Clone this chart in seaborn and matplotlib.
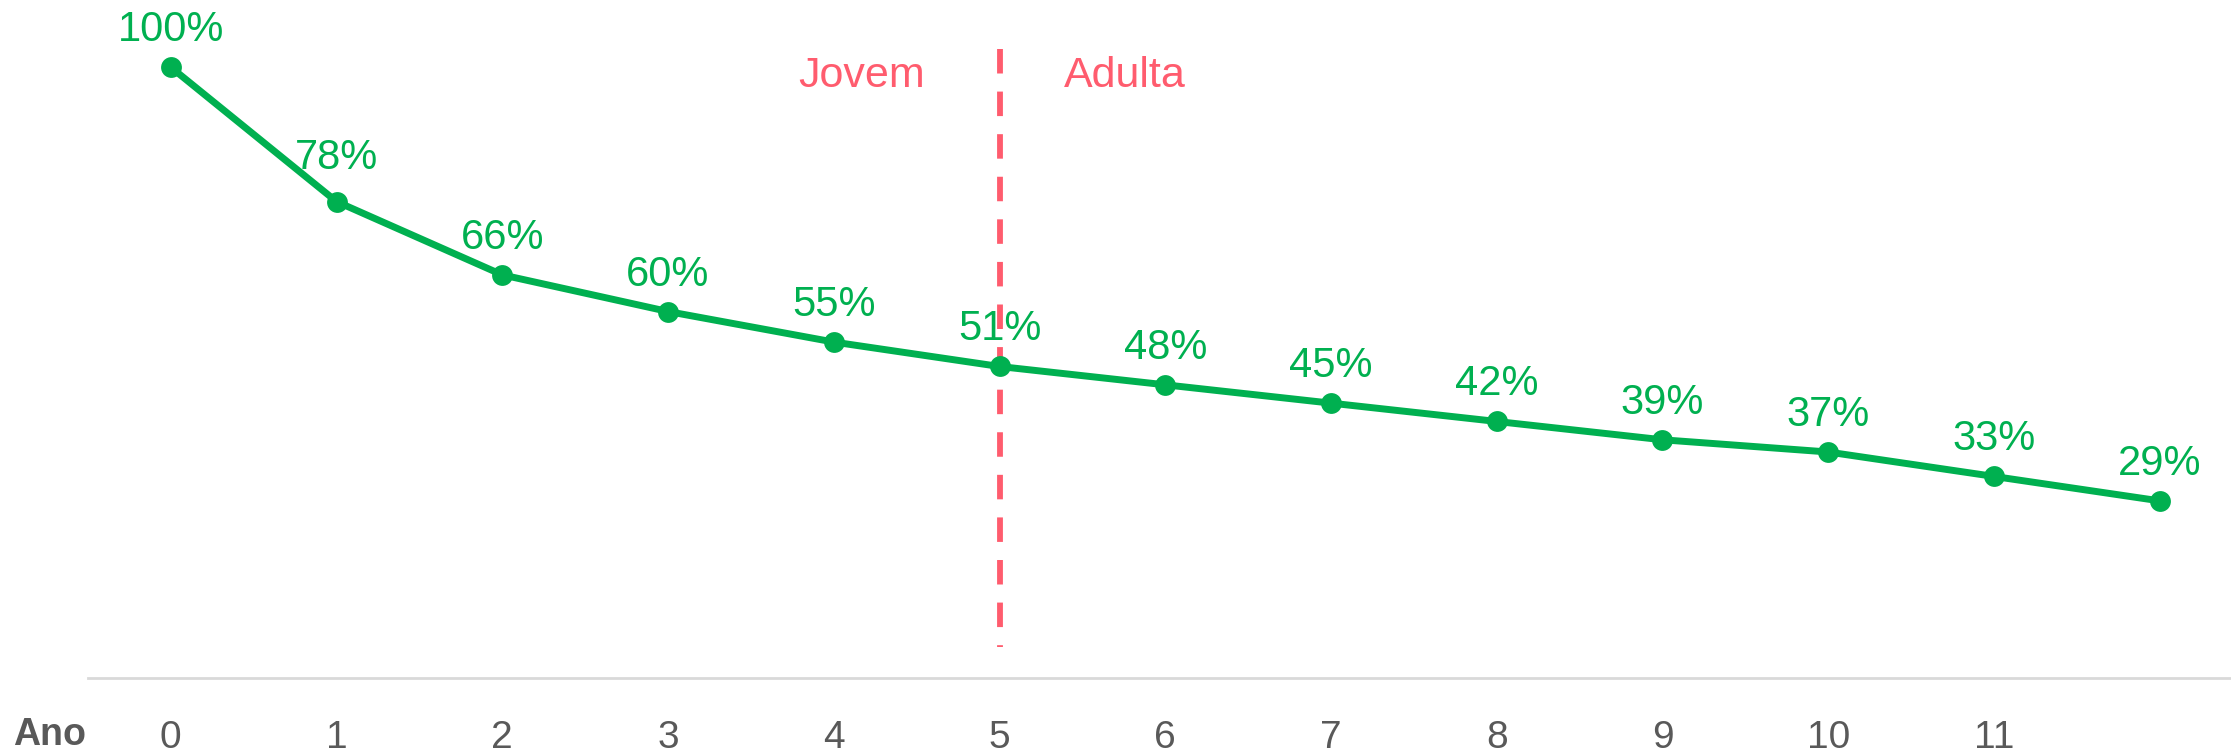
import matplotlib
matplotlib.use('Agg')
import matplotlib.pyplot as plt
import pandas as pd
import seaborn as sns

# data
anos = [0, 1, 2, 3, 4, 5, 6, 7, 8, 9, 10, 11, 12]
retencao = [100, 78, 66, 60, 55, 51, 48, 45, 42, 39, 37, 33, 29]
tick_anos = [0, 1, 2, 3, 4, 5, 6, 7, 8, 9, 10, 11]
corte = 5
fases = ['Jovem', 'Adulta']

green = '#00B050'
red = '#FF5C6E'
gray = '#595959'

sns.set_theme(style='white')
plt.rcParams['font.family'] = ['Liberation Sans', 'DejaVu Sans']

df = pd.DataFrame({'ano': anos, 'retencao': retencao})

fig = plt.figure(figsize=(22.31, 7.52), dpi=100)
ax = fig.add_axes([0.0394, 0.0984, 0.9606, 0.9016])

# vertical split between phases (drawn top-down so the top dash is whole)
ax.plot([corte, corte], [103, 5], color=red, lw=4.2,
        linestyle=(0, (4.2, 3.1)), zorder=1)

sns.lineplot(data=df, x='ano', y='retencao', ax=ax, color=green,
             linewidth=5, marker='o', markersize=15,
             markeredgewidth=0, zorder=3)

# value labels
for i, (x, y) in enumerate(zip(anos, retencao)):
    off = 33 if i == 1 else 26
    ax.annotate(f'{y}%', (x, y), xytext=(0, off), textcoords='offset pixels',
                ha='center', va='baseline', color=green, fontsize=30)

ax.text(corte - 0.45, 98.5, fases[0], ha='right', va='center',
        color=red, fontsize=31)
ax.text(corte + 0.39, 98.5, fases[1], ha='left', va='center',
        color=red, fontsize=31)

ax.set_xlim(-0.5, 12.43)
ax.set_ylim(0, 111)
ax.set_xticks(tick_anos)
ax.set_xticklabels([str(t) for t in tick_anos])
ax.set_yticks([])
ax.tick_params(axis='x', length=0, pad=30, labelsize=28, colors=gray)
ax.set_xlabel('')
ax.set_ylabel('')

for side in ['top', 'right', 'left']:
    ax.spines[side].set_visible(False)
ax.spines['bottom'].set_color('#d9d9d9')
ax.spines['bottom'].set_linewidth(2)

fig.text(0.0058, 0.009, 'Ano', ha='left', va='baseline', color=gray,
         fontsize=27, fontweight='bold')

fig.savefig('out.png', dpi=100, facecolor='white')
